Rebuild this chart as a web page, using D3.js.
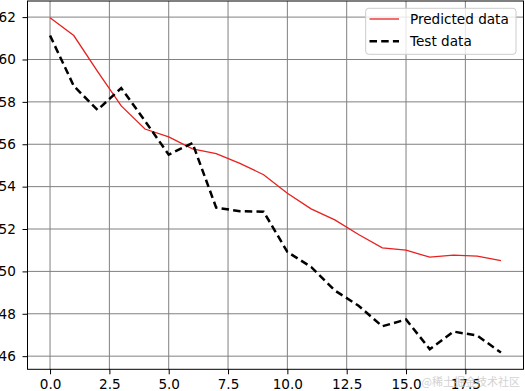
<!DOCTYPE html>
<html>
<head>
<meta charset="utf-8">
<script src="https://cdn.jsdelivr.net/npm/d3@7/dist/d3.min.js"></script>
<style>
  html, body { margin: 0; padding: 0; background: #fff; }
  svg { display: block; }
  text { font-family: "DejaVu Sans", sans-serif; }
</style>
</head>
<body>
<div id="chart"></div>
<script>
const xIndex = d3.range(20);
const predicted = [61.97, 61.13, 59.44, 57.81, 56.72, 56.35, 55.78, 55.56, 55.1, 54.56,
                   53.69, 52.95, 52.43, 51.74, 51.11, 51.0, 50.67, 50.77, 50.72, 50.51];
const testData = [61.13, 58.75, 57.62, 58.65, 57.1, 55.51, 56.06, 53.01, 52.84, 52.82,
                  50.92, 50.21, 49.1, 48.38, 47.41, 47.73, 46.33, 47.16, 46.97, 46.17];
const xTicks = [0, 2.5, 5, 7.5, 10, 12.5, 15, 17.5];
const yTicks = [46, 48, 50, 52, 54, 56, 58, 60, 62];
const legendLabels = ["Predicted data", "Test data"];
const watermark = "@稀土掘金技术社区";

const W = 525, H = 391;
const m = {left: 27.5, right: 1.5, top: 1, bottom: 21.7};
const FS = "13.6px";

const svg = d3.select("#chart").append("svg").attr("width", W).attr("height", H);

const yAll = predicted.concat(testData);
const ymin = d3.min(yAll), ymax = d3.max(yAll);
const ypad = (ymax - ymin) * 0.05;
const xpad = 19 * 0.05;

const x = d3.scaleLinear().domain([-xpad, 19 + xpad]).range([m.left, W - m.right]);
const y = d3.scaleLinear().domain([ymin - ypad, ymax + ypad]).range([H - m.bottom, m.top]);

// grid
const g = svg.append("g");
g.selectAll(".vg").data(xTicks).enter().append("line")
  .attr("x1", d => x(d)).attr("x2", d => x(d))
  .attr("y1", m.top).attr("y2", H - m.bottom)
  .attr("stroke", "#808080").attr("stroke-width", 1);
g.selectAll(".hg").data(yTicks).enter().append("line")
  .attr("y1", d => y(d)).attr("y2", d => y(d))
  .attr("x1", m.left).attr("x2", W - m.right)
  .attr("stroke", "#808080").attr("stroke-width", 1);

// axes
const xAxis = d3.axisBottom(x).tickValues(xTicks).tickFormat(d3.format(".1f")).tickSizeOuter(0).tickSize(5).tickPadding(5.4);
const yAxis = d3.axisLeft(y).tickValues(yTicks).tickFormat(d3.format("d")).tickSizeOuter(0).tickSize(5).tickPadding(6.6);

const gx = svg.append("g").attr("transform", `translate(0,${H - m.bottom})`).call(xAxis);
const gy = svg.append("g").attr("transform", `translate(${m.left},0)`).call(yAxis);
[gx, gy].forEach(a => {
  a.select(".domain").remove();
  a.selectAll(".tick line").attr("stroke", "#000").attr("stroke-width", 1);
  a.selectAll(".tick text").attr("fill", "#000").style("font-size", FS).style("font-family", "DejaVu Sans");
});

// lines
const line = d3.line().x((d, i) => x(xIndex[i])).y(d => y(d));
svg.append("path").datum(predicted).attr("d", line)
  .attr("fill", "none").attr("stroke", "#e8201e").attr("stroke-width", 1.3);
svg.append("path").datum(testData).attr("d", line)
  .attr("fill", "none").attr("stroke", "#000").attr("stroke-width", 2.5)
  .attr("stroke-dasharray", "7.5,4.2");

// frame
svg.append("rect")
  .attr("x", m.left).attr("y", m.top)
  .attr("width", W - m.right - m.left).attr("height", H - m.bottom - m.top)
  .attr("fill", "none").attr("stroke", "#000").attr("stroke-width", 1);

// legend
const lg = svg.append("g");
lg.append("rect").attr("x", 365.7).attr("y", 8.3).attr("width", 150.3).attr("height", 46)
  .attr("rx", 3).attr("fill", "rgba(255,255,255,0.8)").attr("stroke", "#cccccc").attr("stroke-width", 1);
const rows = [19, 41.2];
lg.append("line").attr("x1", 369.5).attr("x2", 399).attr("y1", rows[0]).attr("y2", rows[0])
  .attr("stroke", "#e8201e").attr("stroke-width", 1.3);
lg.append("line").attr("x1", 369.5).attr("x2", 399).attr("y1", rows[1]).attr("y2", rows[1])
  .attr("stroke", "#000").attr("stroke-width", 2.5).attr("stroke-dasharray", "7.5,4.2");
legendLabels.forEach((t, i) => {
  lg.append("text").attr("x", 410).attr("y", rows[i]).attr("dy", "0.36em")
    .style("font-size", FS).attr("fill", "#000").text(t);
});

// watermark
svg.append("text").attr("x", 520).attr("y", 386).attr("text-anchor", "end")
  .style("font-family", "'Noto Sans CJK SC', sans-serif").style("font-size", "11px")
  .attr("fill", "#c8c8c8").attr("opacity", 0.8).text(watermark);
</script>
</body>
</html>
